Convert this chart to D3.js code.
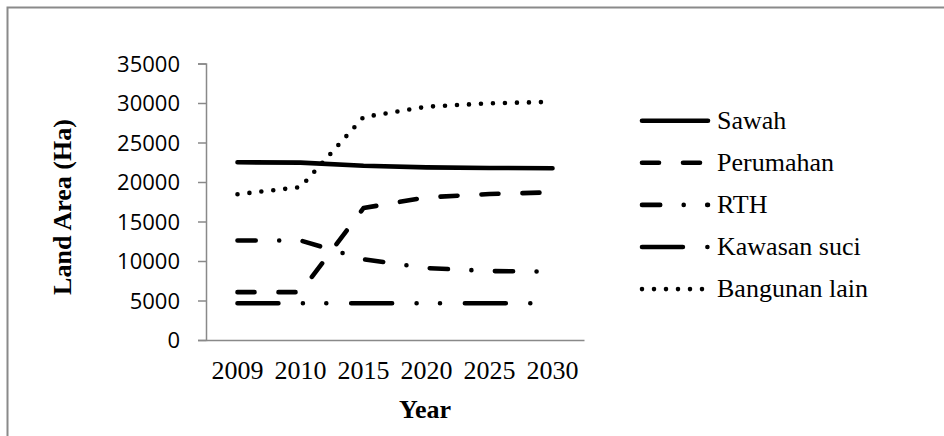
<!DOCTYPE html>
<html lang="en">
<head>
    <meta charset="utf-8">
    <title>Land Area by Year</title>
    <style>
        body {
            margin: 0;
            background: #fff;
        }

        svg {
            display: block;
        }

        .tick-y text {
            font-family: "Open Sans", "Noto Sans", sans-serif;
            font-size: 22px;
            fill: #000;
        }

        .serif {
            font-family: "Liberation Serif", "Times New Roman", serif;
            fill: #000;
        }
    </style>
</head>
<body>
    <div id="chart"></div>

    <script src="https://cdn.jsdelivr.net/npm/d3@7/dist/d3.min.js"></script>
    <script>
        // Data
        const years = ["2009", "2010", "2015", "2020", "2025", "2030"];
        const yTicks = [0, 5000, 10000, 15000, 20000, 25000, 30000, 35000];

        const sawah = [22500, 22450, 22050, 21850, 21780, 21750];
        const perumahan = [6060, 6060, 16700, 18060, 18480, 18700];
        const rth = [12600, 12600, 10220, 9110, 8730, 8650];
        const kawasanSuci = [4650, 4650, 4650, 4650, 4650, 4650];
        const bangunanLain = [18450, 19350, 28220, 29530, 29960, 30150];

        const seriesNames = ["Sawah", "Perumahan", "RTH", "Kawasan suci", "Bangunan lain"];
        const seriesValues = [sawah, perumahan, rth, kawasanSuci, bangunanLain];

        // Excel-ish dash styles (round caps)
        const dashes = ["none", "17 24", "18.2 23.5 0 23.5", "40.9 24.5 0 23.4 0 24.9", "0 12"];

        const width = 944, height = 436;
        const lineWidth = 4.6;

        const svg = d3.select("#chart")
            .append("svg")
            .attr("width", width)
            .attr("height", height);

        // Outer chart frame (only top and left edges are visible)
        svg.append("path")
            .attr("d", "M7.5,436 V7.5 H944")
            .attr("fill", "none")
            .attr("stroke", "#8a8a8a")
            .attr("stroke-width", 2);

        const x = d3.scaleBand()
            .domain(years)
            .range([206, 584])
            .padding(0);

        const y = d3.scaleLinear()
            .domain([0, 35000])
            .range([340, 63.5]);

        // Y axis
        const yAxis = svg.append("g")
            .attr("class", "tick-y")
            .attr("transform", "translate(206,0)")
            .call(d3.axisLeft(y).tickValues(yTicks).tickSize(8).tickPadding(18).tickFormat(d3.format("d")));
        yAxis.select(".domain").attr("stroke", "#898989").attr("stroke-width", 1.5);
        yAxis.selectAll(".tick line").attr("stroke", "#898989").attr("stroke-width", 1.5);
        yAxis.selectAll("text").attr("dy", "0.35em").attr("font-family", null).attr("font-size", null);

        // X axis
        const xAxis = svg.append("g")
            .attr("transform", "translate(0,340)")
            .call(d3.axisBottom(x).tickSize(0).tickPadding(21));
        xAxis.attr("font-family", null);
        xAxis.select(".domain").attr("stroke", "#898989").attr("stroke-width", 1.5);
        xAxis.selectAll("text")
            .attr("class", "serif")
            .style("font-size", "26px");

        // Axis titles
        svg.append("text")
            .attr("class", "serif")
            .attr("transform", "translate(71,207) rotate(-90)")
            .attr("text-anchor", "middle")
            .style("font-size", "26px")
            .style("font-weight", "bold")
            .text("Land Area (Ha)");

        svg.append("text")
            .attr("class", "serif")
            .attr("x", 425)
            .attr("y", 418)
            .attr("text-anchor", "middle")
            .style("font-size", "26px")
            .style("font-weight", "bold")
            .text("Year");

        // Lines
        const line = d3.line()
            .x((d, i) => x(years[i]) + x.bandwidth() / 2)
            .y(d => y(d));

        svg.append("g")
            .selectAll("path")
            .data(seriesValues)
            .join("path")
            .attr("d", line)
            .attr("fill", "none")
            .attr("stroke", "#000")
            .attr("stroke-width", lineWidth)
            .attr("stroke-linecap", "round")
            .attr("stroke-linejoin", "round")
            .attr("stroke-dasharray", (d, i) => dashes[i]);

        // Legend
        const legend = svg.append("g")
            .selectAll("g")
            .data(seriesNames)
            .join("g")
            .attr("transform", (d, i) => `translate(0,${120.7 + i * 42.1})`);

        legend.append("line")
            .attr("x1", 642)
            .attr("x2", 708)
            .attr("stroke", "#000")
            .attr("stroke-width", lineWidth)
            .attr("stroke-linecap", "round")
            .attr("stroke-dasharray", (d, i) => dashes[i]);

        legend.append("text")
            .attr("class", "serif")
            .attr("x", 717)
            .attr("y", 8)
            .style("font-size", "26px")
            .text(d => d);
    </script>
</body>
</html>
